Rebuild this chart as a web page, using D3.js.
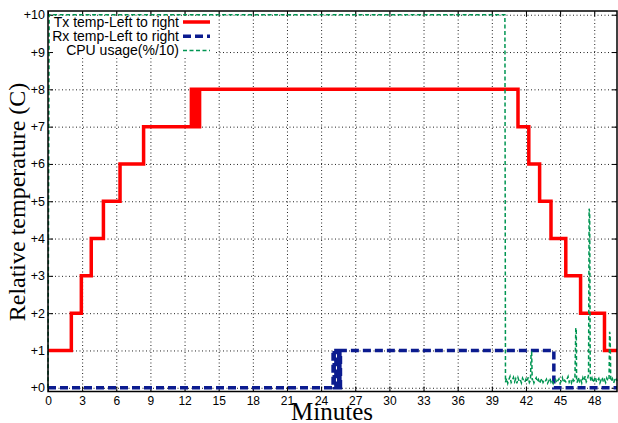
<!DOCTYPE html>
<html>
<head>
<meta charset="utf-8">
<script src="https://cdn.jsdelivr.net/npm/d3@7"></script>
<style>
  body { margin: 0; background: #fff; }
  text { font-family: "Liberation Sans", Arial, sans-serif; }
</style>
</head>
<body>
<div id="chart"></div>
<script>
var svgWidth = 618;
var svgHeight = 423;

// plot box
var margin = {top: 11, right: 1, bottom: 31.5, left: 48};
var width = svgWidth - margin.left - margin.right;
var height = svgHeight - margin.top - margin.bottom;

// tick labels
var xTicks = [0, 3, 6, 9, 12, 15, 18, 21, 24, 27, 30, 33, 36, 39, 42, 45, 48];
var yTicks = [0, 1, 2, 3, 4, 5, 6, 7, 8, 9, 10];

// Tx temp (step changes)
var txMinutes = [0, 2.05, 2.93, 3.8, 4.87, 6.33, 8.4, 12.6, 12.85, 13.1, 13.22, 13.32, 41.3, 42.25, 43.2, 44.2, 45.5, 46.8, 48.9, 50];
var txValues  = [1, 2, 3, 4, 5, 6, 7, 8, 7, 8, 7, 8, 7, 6, 5, 4, 3, 2, 1, 1];

// Rx temp (step changes)
var rxMinutes = [0, 25.05, 25.15, 25.3, 25.4, 25.55, 25.65, 25.7, 44.45, 50];
var rxValues  = [0, 1, 0, 1, 0, 1, 0, 1, 0, 0];

// CPU usage / 10
var cpuMinutes = [0, 0.1, 40.15, 40.2, 40.3, 40.4, 40.5, 40.6, 40.7, 40.8, 40.9, 41.0, 41.1, 41.2, 41.3, 41.4, 41.5, 41.6, 41.7, 41.8, 41.9,
  42.0, 42.1, 42.2, 42.3, 42.4, 42.45, 42.5, 42.55, 42.6, 42.7, 42.8, 42.9, 43.0, 43.1, 43.2, 43.3, 43.4, 43.5, 43.6, 43.7, 43.8, 43.9,
  44.0, 44.1, 44.2, 44.3, 44.4, 44.5, 44.6, 44.7, 44.8, 44.9, 45.0, 45.1, 45.2, 45.3, 45.4, 45.5, 45.6, 45.7, 45.8, 45.9,
  46.0, 46.1, 46.2, 46.3, 46.38, 46.42, 46.45, 46.5, 46.6, 46.7, 46.8, 46.9, 47.0, 47.1, 47.2, 47.3, 47.4, 47.5, 47.55, 47.6, 47.65,
  47.7, 47.8, 47.9, 48.0, 48.1, 48.2, 48.3, 48.4, 48.5, 48.6, 48.7, 48.8, 48.9, 49.0, 49.1, 49.2, 49.3, 49.35, 49.4, 49.45,
  49.5, 49.6, 49.7, 49.8, 49.9, 50.0];
var cpuValues = [0, 10, 10, 0.15, 0.25, 0.12, 0.22, 0.3, 0.14, 0.2, 0.28, 0.16, 0.24, 0.12, 0.27, 0.18, 0.22, 0.13, 0.26, 0.19, 0.15,
  0.23, 0.17, 0.28, 0.14, 0.2, 0.93, 0.95, 0.2, 0.25, 0.13, 0.21, 0.27, 0.16, 0.22, 0.12, 0.19, 0.25, 0.14, 0.2, 0.17, 0.23, 0.12,
  0.18, 0.26, 0.15, 0.2, 0.11, 0.17, 0.22, 0.13, 0.19, 0.24, 0.12, 0.18, 0.27, 0.14, 0.2, 0.16, 0.23, 0.3, 0.15, 0.21,
  0.13, 0.26, 0.18, 0.22, 1.6, 1.6, 0.2, 0.14, 0.28, 0.17, 0.23, 0.13, 0.27, 0.19, 0.31, 0.16, 0.22, 0.35, 4.8, 4.7, 0.3,
  0.18, 0.26, 0.14, 0.22, 0.29, 0.15, 0.2, 0.25, 0.13, 0.21, 0.28, 0.16, 0.22, 0.14, 0.26, 0.19, 0.23, 1.5, 1.4, 0.25,
  0.17, 0.24, 0.13, 0.21, 0.27, 0.18];

var legendNames = ["Tx temp-Left to right", "Rx temp-Left to right", "CPU usage(%/10)"];
var colors = ["#ff0000", "#0b1b8f", "#009552"];

var svg = d3.select("#chart")
  .append("svg")
  .attr("width", svgWidth)
  .attr("height", svgHeight);

var chartGroup = svg.append("g")
  .attr("transform", `translate(${margin.left}, ${margin.top})`);

var xScale = d3.scaleLinear().domain([0, 50]).range([0, width]);
var yScale = d3.scaleLinear().domain([-0.1, 10.1]).range([height, 0]);

// dotted grid
chartGroup.append("g")
  .attr("class", "grid")
  .attr("transform", `translate(0, ${height})`)
  .call(d3.axisBottom(xScale).tickValues(xTicks.slice(1)).tickSize(-height).tickFormat(""));
chartGroup.append("g")
  .attr("class", "grid")
  .call(d3.axisLeft(yScale).tickValues(yTicks).tickSize(-width).tickFormat(""));
chartGroup.selectAll(".grid .domain").remove();
chartGroup.selectAll(".grid line")
  .attr("stroke", "#222")
  .attr("stroke-width", 1)
  .attr("stroke-dasharray", "1,2.5");

// key box hides grid behind it
chartGroup.append("rect")
  .attr("x", 2)
  .attr("y", 5)
  .attr("width", 165)
  .attr("height", 41)
  .attr("fill", "#fff");

// axes with inward ticks
var xAxis = chartGroup.append("g")
  .attr("transform", `translate(0, ${height})`)
  .call(d3.axisBottom(xScale).tickValues(xTicks).tickSize(-5).tickPadding(4.5));
xAxis.selectAll("text").attr("font-size", "12px").attr("fill", "#000");

var yAxis = chartGroup.append("g")
  .call(d3.axisLeft(yScale).tickValues(yTicks).tickSize(-5).tickPadding(3).tickFormat(d => "+" + d));
yAxis.selectAll("text").attr("font-size", "12.5px").attr("fill", "#000");

chartGroup.append("g")
  .call(d3.axisTop(xScale).tickValues(xTicks).tickSize(-5).tickFormat(""));
chartGroup.append("g")
  .attr("transform", `translate(${width}, 0)`)
  .call(d3.axisRight(yScale).tickValues(yTicks).tickSize(-5).tickFormat(""));
chartGroup.selectAll(".domain").remove();

// series
var stepLine = d3.line()
  .x(d => xScale(d[0]))
  .y(d => yScale(d[1]))
  .curve(d3.curveStepAfter);
var plainLine = d3.line()
  .x(d => xScale(d[0]))
  .y(d => yScale(d[1]));

var txData = txMinutes.map((m, i) => [m, txValues[i]]);
var rxData = rxMinutes.map((m, i) => [m, rxValues[i]]);
var cpuData = cpuMinutes.map((m, i) => [m, cpuValues[i]]);

chartGroup.append("path")
  .datum(txData)
  .attr("d", stepLine)
  .attr("fill", "none")
  .attr("stroke", colors[0])
  .attr("stroke-width", 3.5);

chartGroup.append("path")
  .datum(rxData)
  .attr("d", stepLine)
  .attr("fill", "none")
  .attr("stroke", colors[1])
  .attr("stroke-width", 3.5)
  .attr("stroke-dasharray", "8,4");

chartGroup.append("path")
  .datum(cpuData)
  .attr("d", plainLine)
  .attr("fill", "none")
  .attr("stroke", colors[2])
  .attr("stroke-width", 1.5)
  .attr("stroke-dasharray", "4,2.5");

// frame
chartGroup.append("rect")
  .attr("width", width)
  .attr("height", height)
  .attr("fill", "none")
  .attr("stroke", "#000")
  .attr("stroke-width", 1.5);

// key
var dashes = [null, "8,4", "4,2.5"];
var widths = [3.5, 3.5, 1.5];
legendNames.forEach(function(name, i) {
  var ly = 22 + i * 14.2;
  svg.append("text")
    .attr("x", 179)
    .attr("y", ly)
    .attr("dy", "0.35em")
    .attr("text-anchor", "end")
    .attr("font-size", "14px")
    .text(name);
  svg.append("line")
    .attr("x1", 183)
    .attr("x2", 210)
    .attr("y1", ly)
    .attr("y2", ly)
    .attr("stroke", colors[i])
    .attr("stroke-width", widths[i])
    .attr("stroke-dasharray", dashes[i]);
});

// axis titles
svg.append("text")
  .attr("x", 332)
  .attr("y", 420)
  .attr("text-anchor", "middle")
  .style("font-family", "'Liberation Serif', 'Times New Roman', serif")
  .attr("font-size", "25px")
  .text("Minutes");

svg.append("text")
  .attr("transform", "translate(25, 202) rotate(-90)")
  .attr("text-anchor", "middle")
  .style("font-family", "'Liberation Serif', 'Times New Roman', serif")
  .attr("font-size", "24px")
  .text("Relative temperature (C)");
</script>
</body>
</html>
